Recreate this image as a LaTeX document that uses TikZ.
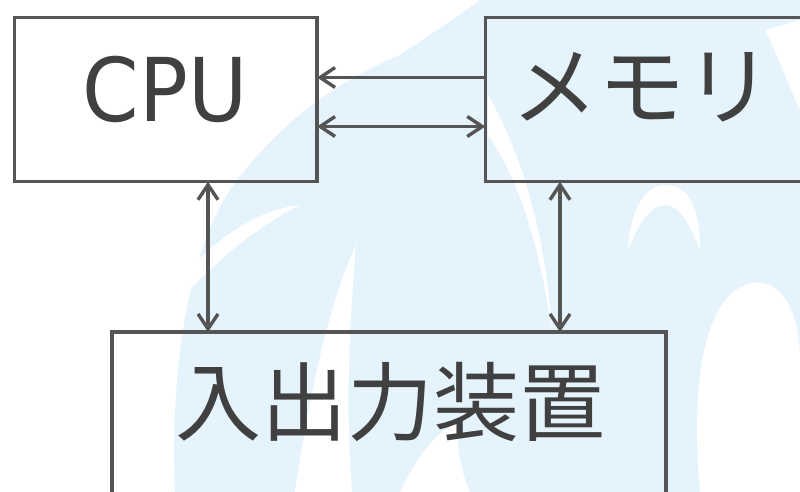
\documentclass[tikz,border=0pt]{standalone}
\usepackage{fontspec}
\setmainfont{DejaVu Sans}
\newfontfamily\jpfont{Noto Sans CJK JP}
\usetikzlibrary{arrows.meta}
\definecolor{wmblue}{RGB}{229,244,252}
\definecolor{linegray}{RGB}{85,85,85}
\definecolor{textgray}{RGB}{64,64,64}
\tikzset{
  box/.style={draw=linegray, line width=3.4pt, inner sep=0pt, outer sep=0pt, rectangle},
  lbl/.style={text=textgray, inner sep=0pt, anchor=center},
  tipstyle/.style={},
  arr/.style={draw=linegray, line width=3.4pt, -{Straight Barb[length=15pt,width=20pt]}},
  arrboth/.style={draw=linegray, line width=3.4pt, {Straight Barb[length=15pt,width=20pt]}-{Straight Barb[length=15pt,width=20pt]}},
  wm/.style={fill=wmblue, draw=none},
  wmw/.style={fill=white, draw=none}
}
\begin{document}
\begin{tikzpicture}[x=1pt,y=-1pt]
\useasboundingbox (0,0) rectangle (800,492);
\clip (0,0) rectangle (800,492);
\fill[white] (0,0) rectangle (800,492);
% watermark (approximate)
\path[wm] (175,492) .. controls (170,380) and (185,260) .. (230,190)
  .. controls (280,120) and (340,80) .. (400,55)
  .. controls (430,35) and (460,15) .. (480,0) -- (800,0) -- (800,492) -- cycle;
\path[wmw] (295,492) .. controls (310,390) and (330,300) .. (356,245)
  .. controls (350,320) and (345,400) .. (352,492) -- cycle;
\path[wmw] (176,282) .. controls (215,240) and (255,210) .. (300,205)
  .. controls (260,225) and (222,255) .. (182,298) -- cycle;
\path[wmw] (488,95) .. controls (520,150) and (545,230) .. (552,330)
  .. controls (540,250) and (520,180) .. (488,135) -- cycle;
\path[wmw] (400,492) .. controls (420,450) and (440,430) .. (460,420)
  .. controls (455,440) and (460,470) .. (470,492) -- cycle;
\path[wmw] (628,250) .. controls (630,210) and (645,185) .. (665,185)
  .. controls (690,185) and (700,210) .. (700,250)
  .. controls (690,225) and (680,205) .. (665,205)
  .. controls (650,205) and (638,225) .. (628,250) -- cycle;
\path[wmw] (700,492) .. controls (690,380) and (705,292) .. (752,283)
  .. controls (795,278) and (800,340) .. (800,360) -- (800,492) -- cycle;
\path[wmw] (765,30) .. controls (780,60) and (790,90) .. (800,110) -- (800,20) -- cycle;
% boxes
\node[box, minimum width=302.7pt, minimum height=164pt] (cpu) at (165.65,99.7) {};
\node[box, minimum width=330pt, minimum height=164pt] (mem) at (650.3,99.7) {};
\node[box, minimum width=554pt, minimum height=170pt] (io) at (389,417) {};
% labels
\node[lbl, font=\fontsize{88}{90}\selectfont] (cputxt) at (165,89.5) {\scalebox{0.92}[1]{CPU}};
\node[lbl, font=\fontsize{87}{90}\selectfont\jpfont] (memtxt) at (642,87) {メモリ};
\node[lbl, font=\fontsize{86}{90}\selectfont\jpfont] (iotxt) at (390,402) {入出力装置};
% connectors
\draw[arr] ([yshift=22.2pt]mem.west) -- ([yshift=22.2pt]cpu.east);
\draw[arrboth] ([yshift=-26.8pt]cpu.east) -- ([yshift=-26.8pt]mem.west);
\draw[arrboth] ([xshift=42.35pt]cpu.south) -- ([xshift=42.35pt]cpu.south |- io.north);
\draw[arrboth] ([xshift=-90.3pt]mem.south) -- ([xshift=-90.3pt]mem.south |- io.north);
\end{tikzpicture}
\end{document}
